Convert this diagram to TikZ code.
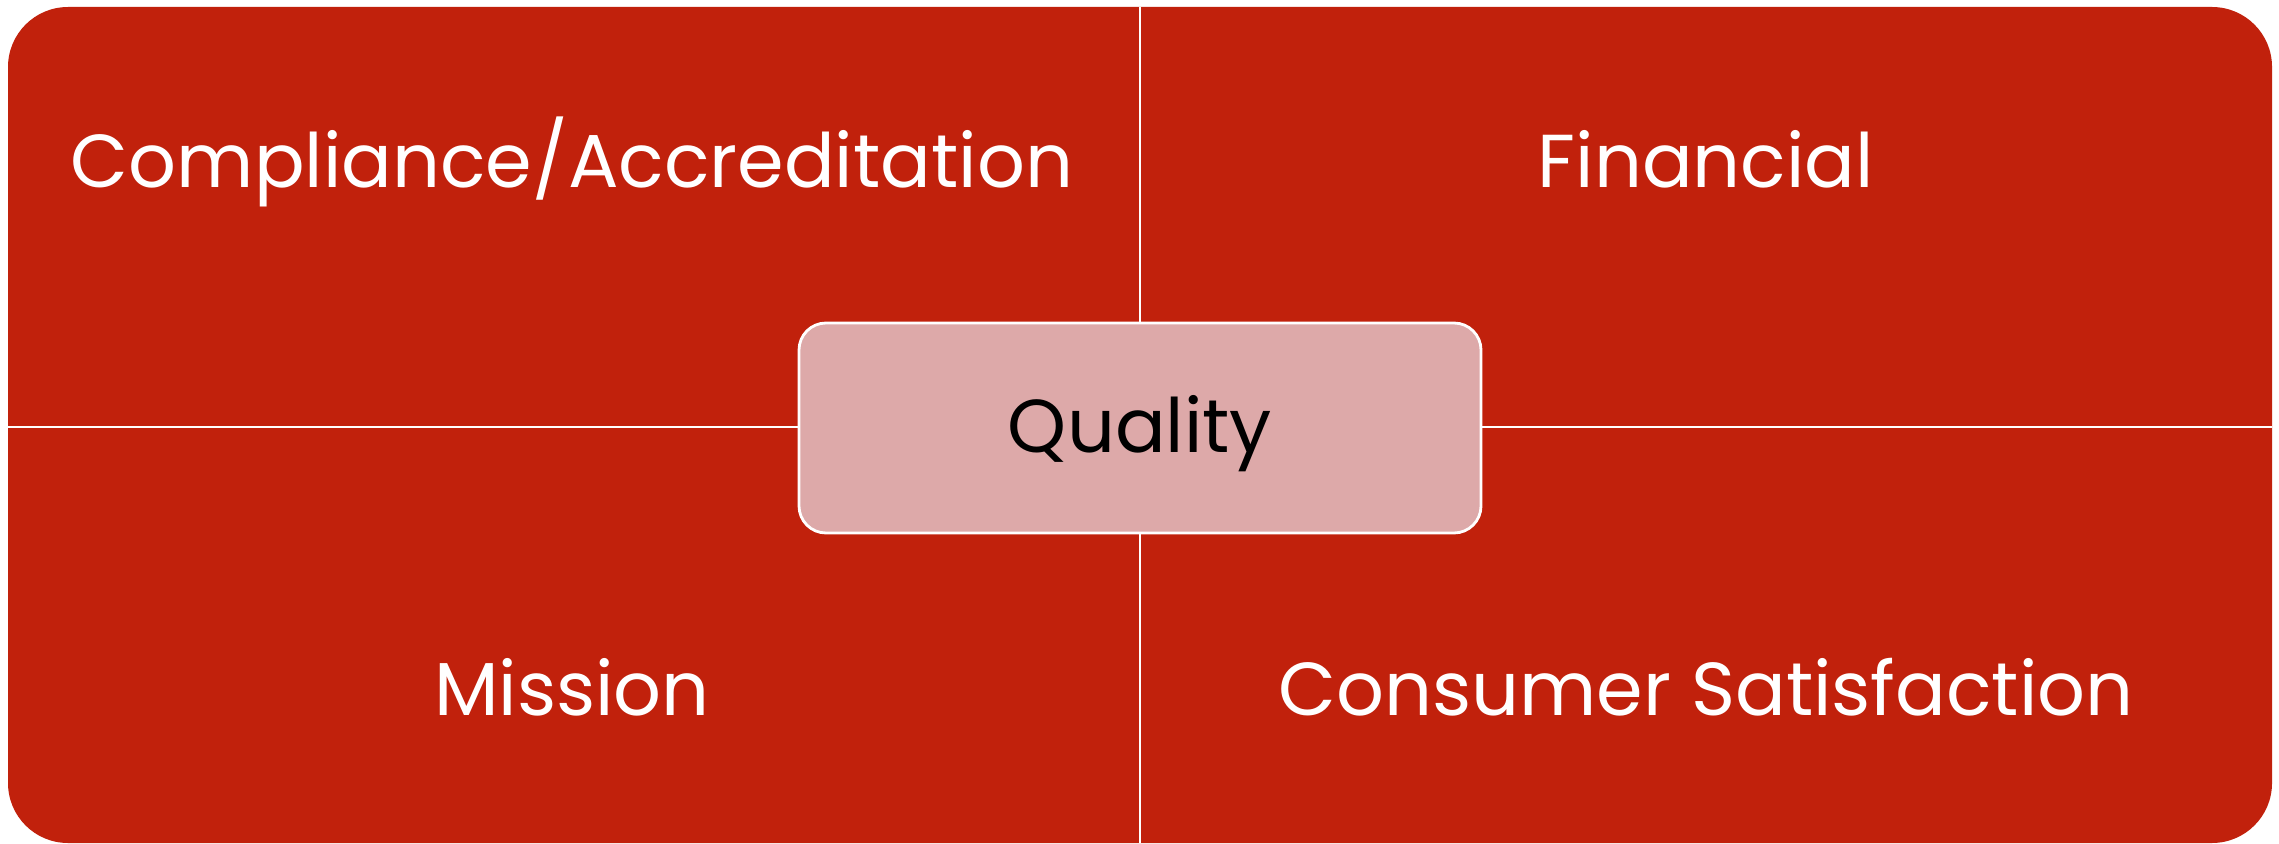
\documentclass[tikz,border=0pt]{standalone}
\usepackage{fontspec}
\setmainfont{Poppins}
\definecolor{quadred}{RGB}{193,33,12}
\definecolor{corepink}{RGB}{221,169,169}
\begin{document}
\begin{tikzpicture}[x=0.5pt,y=-0.5pt,
  quadlabel/.style={text=white,font=\fontsize{37.5}{45}\selectfont,inner sep=0pt,anchor=base},
  divider/.style={draw=white,line width=1.4pt},
  corebox/.style={rectangle,rounded corners=13.5pt,fill=corepink,draw=white,line width=1.4pt,
    minimum width=341pt,minimum height=105pt,inner sep=0pt,
    text height=30pt,text depth=6pt,
    font=\fontsize{37.5}{45}\selectfont,text=black}]
\useasboundingbox (0,0) rectangle (2279,844);
% rounded field holding the four quadrants
\fill[quadred,rounded corners=30pt] (8,7) rectangle (2272,843);
% dividing lines between the quadrants
\coordinate (topmid) at (1140,7);
\coordinate (botmid) at (1140,843);
\coordinate (leftmid) at (8,427);
\coordinate (rightmid) at (2272,427);
\draw[divider] (topmid) -- (botmid);
\draw[divider] (leftmid) -- (rightmid);
% quadrant labels
\node[quadlabel] (compliance) at (572,188) {Compliance/Accreditation};
\node[quadlabel] (financial) at (1706,188) {Financial};
\node[quadlabel] (mission) at (572,715) {Mission};
\node[quadlabel] (consumer) at (1706,715) {Consumer Satisfaction};
% central element
\node[corebox] (quality) at (1140,428) {Quality};
\end{tikzpicture}
\end{document}
